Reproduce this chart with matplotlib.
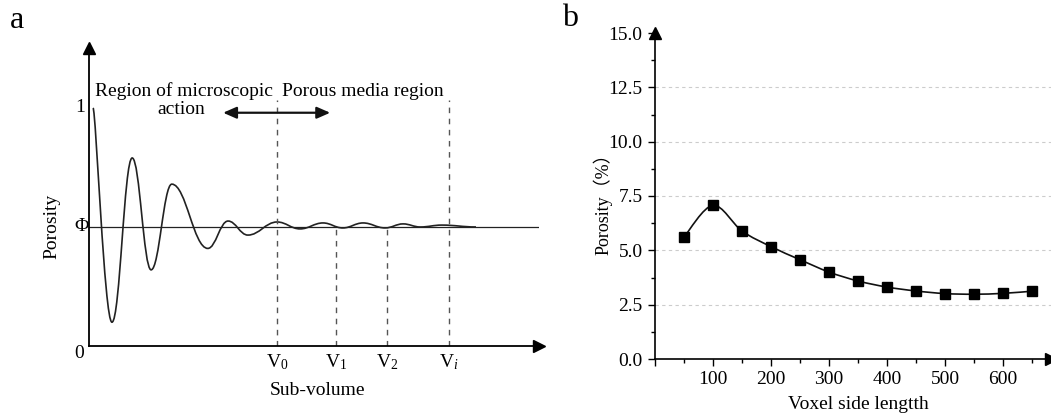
import matplotlib
matplotlib.use("Agg")
import matplotlib.pyplot as plt
import numpy as np
from matplotlib.path import Path
from matplotlib.patches import PathPatch

plt.rcParams['font.family'] = ['Liberation Serif', 'DejaVu Serif']
plt.rcParams['mathtext.fontset'] = 'custom'
plt.rcParams['mathtext.rm'] = 'Liberation Serif'
plt.rcParams['mathtext.it'] = 'Liberation Serif:italic'

# panel a: schematic porosity vs sub-volume (turning points)
wave_x = [0.09, 0.51, 0.96, 1.38, 1.84, 2.64, 3.09, 3.53, 4.18, 4.69, 5.20,
          5.64, 6.09, 6.58, 6.98, 7.36, 7.84, 8.60]
wave_y = [1.00, 0.10, 0.79, 0.32, 0.68, 0.41, 0.525, 0.466, 0.521, 0.492,
          0.517, 0.496, 0.517, 0.496, 0.513, 0.50, 0.508, 0.50]
phi = 0.5
sub_x = [4.18, 5.49, 6.62, 8.0]
sub_labels = ['V$_{\\mathrm{0}}$', 'V$_{\\mathrm{1}}$', 'V$_{\\mathrm{2}}$', 'V$_{i}$']
sub_top = [1.034, phi, phi, 1.034]

# panel b: porosity vs voxel side length
voxel = [50, 100, 150, 200, 250, 300, 350, 400, 450, 500, 550, 600, 650]
porosity = [5.61, 7.07, 5.89, 5.17, 4.57, 4.00, 3.59, 3.31, 3.13, 3.01, 2.98, 3.02, 3.12]


def wave_path(xs, ys):
    verts = [(xs[0], ys[0])]
    codes = [Path.MOVETO]
    for i in range(len(xs) - 1):
        dx = xs[i + 1] - xs[i]
        k = 0.15 if i == 0 else 0.4
        verts += [(xs[i] + k * dx, ys[i]), (xs[i + 1] - 0.4 * dx, ys[i + 1]), (xs[i + 1], ys[i + 1])]
        codes += [Path.CURVE4] * 3
    return Path(verts, codes)


def spline_path(xs, ys):
    p = np.column_stack([xs, ys]).astype(float)
    n = len(p)
    verts = [tuple(p[0])]
    codes = [Path.MOVETO]
    for i in range(n - 1):
        a = p[max(i - 1, 0)]
        b = p[min(i + 2, n - 1)]
        c1 = p[i] + (p[i + 1] - a) / 6
        c2 = p[i + 1] - (b - p[i]) / 6
        verts += [tuple(c1), tuple(c2), tuple(p[i + 1])]
        codes += [Path.CURVE4] * 3
    return Path(verts, codes)


fig = plt.figure(figsize=(10.51, 4.16), dpi=100)

# ---------------- panel a ----------------
ax1 = fig.add_axes([89 / 1051, 70 / 416, 450 / 1051, 298 / 416])
ax1.set_xlim(0, 10)
ax1.set_ylim(0, 1.252)
for s in ['top', 'right']:
    ax1.spines[s].set_visible(False)
for s in ['left', 'bottom']:
    ax1.spines[s].set_linewidth(1.3)
ax1.set_xticks([])
ax1.set_yticks([])
ax1.plot(1, 0, '>k', ms=9, transform=ax1.transAxes, clip_on=False)
ax1.plot(0, 1, '^k', ms=9, transform=ax1.transAxes, clip_on=False)

ax1.plot([0, 10], [phi, phi], color='#222222', lw=0.9)
ax1.add_patch(PathPatch(wave_path(wave_x, wave_y), fc='none', ec='#222222', lw=1.2))
for x, top, lab in zip(sub_x, sub_top, sub_labels):
    ax1.plot([x, x], [0, top], color='#555555', lw=1.0, ls=(0, (4, 4)))
    ax1.text(x, -0.067, lab, ha='center', va='center', fontsize=14)

ax1.text(-0.2, 1.0, '1', ha='center', va='center', fontsize=14)
ax1.text(-0.17, phi, 'Φ', ha='center', va='center', fontsize=14)
ax1.text(-0.22, -0.03, '0', ha='center', va='center', fontsize=14)
ax1.text(-0.82, 0.504, 'Porosity', rotation=90, ha='center', va='center', fontsize=14)
ax1.text(5.07, -0.189, 'Sub-volume', ha='center', va='center', fontsize=14)
ax1.text(2.11, 1.071, 'Region of microscopic', ha='center', va='center', fontsize=14)
ax1.text(2.04, 0.992, 'action', ha='center', va='center', fontsize=14)
ax1.text(6.09, 1.071, 'Porous media region', ha='center', va='center', fontsize=14)
ax1.annotate('', xy=(2.98, 0.98), xytext=(5.36, 0.98),
             arrowprops=dict(arrowstyle='<|-|>,head_length=0.8,head_width=0.35',
                             color='#111111', lw=1.6, shrinkA=0, shrinkB=0))
fig.text(17 / 1051, 1 - 20 / 416, 'a', ha='center', va='center', fontsize=23)

# ---------------- panel b ----------------
ax2 = fig.add_axes([655 / 1051, 57 / 416, 396 / 1051, 326 / 416])
ax2.set_xlim(0, 682.8)
ax2.set_ylim(0, 15)
for s in ['top', 'right']:
    ax2.spines[s].set_visible(False)
for s in ['left', 'bottom']:
    ax2.spines[s].set_linewidth(1.2)
ax2.plot(1, 0, '>k', ms=9, transform=ax2.transAxes, clip_on=False)
ax2.plot(0, 1, '^k', ms=9, transform=ax2.transAxes, clip_on=False)

yt = [0, 2.5, 5, 7.5, 10, 12.5, 15]
ax2.set_yticks(yt)
ax2.set_yticklabels(['%.1f' % v for v in yt])
ax2.set_yticks(np.arange(1.25, 15, 2.5), minor=True)
xt = [0, 100, 200, 300, 400, 500, 600]
ax2.set_xticks(xt)
ax2.set_xticklabels([''] + [str(v) for v in xt[1:]])
ax2.set_xticks(np.arange(50, 700, 100), minor=True)
ax2.tick_params(which='major', direction='out', length=5, width=1.0, labelsize=14, pad=4)
ax2.tick_params(which='minor', direction='out', length=3, width=1.0)
for v in yt[1:-1]:
    ax2.axhline(v, color='#cccccc', lw=0.8, ls=(0, (3, 3)), zorder=0)

ax2.add_patch(PathPatch(spline_path(voxel, porosity), fc='none', ec='#111111', lw=1.2))
ax2.plot(voxel, porosity, 's', color='#000000', ms=7, ls='none')

ax2.set_xlabel('Voxel side lengtth', fontsize=14, va='center')
ax2.xaxis.set_label_coords(0.513, -0.141)
ax2.set_ylabel('Porosity（%）', fontsize=13, va='center',
               family=['Liberation Serif', 'Noto Sans CJK SC'])
ax2.yaxis.set_label_coords(-0.131, 0.49)
fig.text(570 / 1051, 1 - 18 / 416, 'b', ha='center', va='center', fontsize=23)

fig.savefig('out.png', dpi=100)
